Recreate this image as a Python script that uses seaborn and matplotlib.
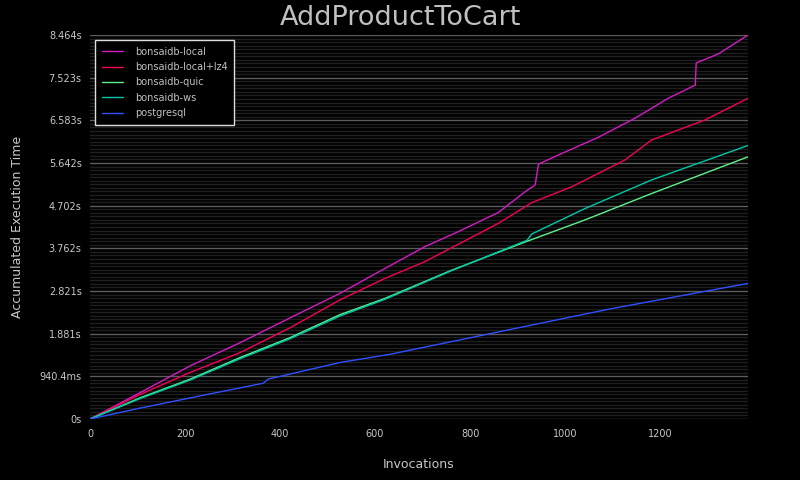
import numpy as np
import pandas as pd
import seaborn as sns
import matplotlib.pyplot as plt
from matplotlib.ticker import MultipleLocator, FixedLocator

# accumulated execution time (seconds), per backend
local_x = [0, 105, 211, 316, 421, 526, 621, 705, 775, 859, 916, 937, 944, 986, 1070, 1147, 1217, 1274, 1276, 1323, 1385]
local_y = [0, 0.579, 1.173, 1.683, 2.229, 2.77, 3.32, 3.80, 4.13, 4.55, 5.01, 5.16, 5.62, 5.82, 6.21, 6.63, 7.07, 7.36, 7.85, 8.05, 8.464]

lz4_x = [0, 105, 211, 316, 421, 526, 621, 705, 859, 930, 1014, 1126, 1182, 1294, 1385]
lz4_y = [0, 0.54, 1.028, 1.465, 2.011, 2.626, 3.10, 3.47, 4.31, 4.77, 5.12, 5.71, 6.15, 6.59, 7.07]

quic_x = [0, 105, 211, 316, 421, 526, 621, 761, 923, 1042, 1182, 1385]
quic_y = [0, 0.466, 0.88, 1.356, 1.794, 2.30, 2.66, 3.28, 3.93, 4.39, 4.97, 5.78]

ws_x = [0, 105, 211, 316, 421, 526, 621, 761, 920, 930, 1042, 1182, 1385]
ws_y = [0, 0.45, 0.86, 1.33, 1.77, 2.27, 2.64, 3.27, 3.94, 4.08, 4.64, 5.27, 6.03]

pg_x = [0, 105, 211, 365, 375, 526, 632, 1091, 1385]
pg_y = [0, 0.24, 0.466, 0.79, 0.88, 1.246, 1.428, 2.42, 2.99]

series = ['bonsaidb-local', 'bonsaidb-local+lz4', 'bonsaidb-quic', 'bonsaidb-ws', 'postgresql']
colors = ['#d41bc4', '#f5005a', '#5ef08c', '#00c8a8', '#3050ff']

y_max = 8.464
y_labels = ['0s', '940.4ms', '1.881s', '2.821s', '3.762s', '4.702s', '5.642s', '6.583s', '7.523s', '8.464s']
x_ticks = [0, 200, 400, 600, 800, 1000, 1200]

frames = []
for name, xs, ys in zip(series,
                        [local_x, lz4_x, quic_x, ws_x, pg_x],
                        [local_y, lz4_y, quic_y, ws_y, pg_y]):
    frames.append(pd.DataFrame({'Invocations': xs, 'Time': ys, 'Backend': name}))
df = pd.concat(frames, ignore_index=True)

sns.set_theme(style='dark', rc={
    'figure.facecolor': 'black',
    'axes.facecolor': 'black',
    'text.color': '#c8c8c8',
    'axes.labelcolor': '#c8c8c8',
    'xtick.color': '#c8c8c8',
    'ytick.color': '#c8c8c8',
})
plt.rcParams['font.family'] = ['DejaVu Sans']

fig = plt.figure(figsize=(8, 4.8), dpi=100)
ax = fig.add_axes([0.1125, 0.127, 0.8225, 0.8])

sns.lineplot(data=df, x='Invocations', y='Time', hue='Backend',
             palette=dict(zip(series, colors)), estimator=None, sort=False,
             linewidth=1.0, ax=ax)

ax.set_xlim(0, 1385)
ax.set_ylim(0, y_max)

major = [i * y_max / 9 for i in range(10)]
ax.yaxis.set_major_locator(FixedLocator(major))
ax.set_yticklabels(y_labels)
ax.yaxis.set_minor_locator(MultipleLocator(y_max / 9 / 12))
ax.set_xticks(x_ticks)

ax.grid(False)
ax.grid(True, axis='y', which='major', color='#5c5c5c', linewidth=1.0)
ax.grid(True, axis='y', which='minor', color='#1f1f1f', linewidth=1.0)
ax.set_axisbelow(True)
for s in ax.spines.values():
    s.set_visible(False)

ax.tick_params(axis='y', which='major', labelsize=7, length=4, color='#5c5c5c', pad=2)
ax.tick_params(axis='y', which='minor', length=0)
ax.tick_params(axis='x', labelsize=7, length=0, pad=7)

ax.set_xlabel('Invocations', fontsize=9, labelpad=14)
ax.set_ylabel('Accumulated Execution Time', fontsize=9, labelpad=11)
fig.suptitle('AddProductToCart', fontsize=19.5, color='#c0c0c0', y=0.99)

leg = ax.legend(loc='upper left', fontsize=7, frameon=True, fancybox=False,
                handlelength=2.2, handletextpad=1.2, borderpad=0.7,
                labelspacing=0.55, bbox_to_anchor=(0.0, 1.0))
leg.get_frame().set_facecolor('black')
leg.get_frame().set_edgecolor('#dddddd')
leg.get_frame().set_alpha(1)
for t in leg.get_texts():
    t.set_color('#c0c0c0')

fig.savefig('out.png', dpi=100, facecolor='black')
